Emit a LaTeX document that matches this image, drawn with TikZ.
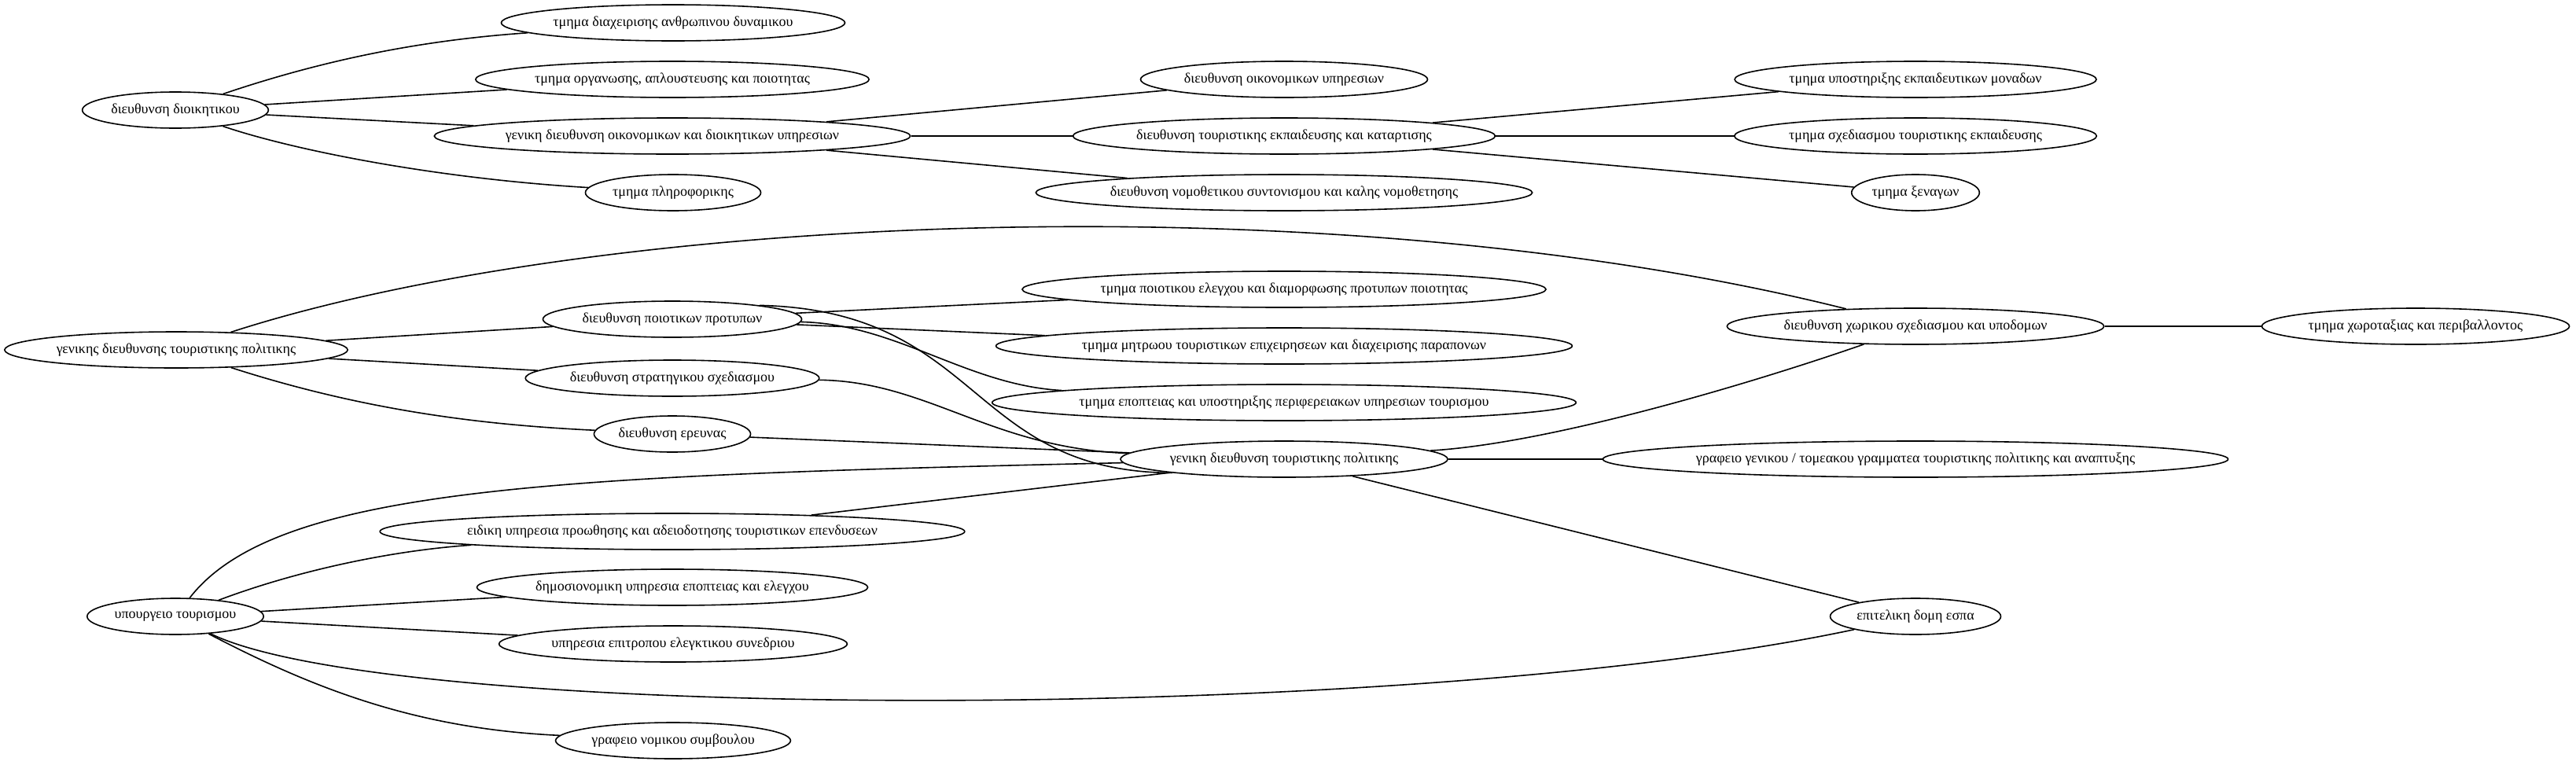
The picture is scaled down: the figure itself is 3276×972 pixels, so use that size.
\documentclass[tikz,border=0pt]{standalone}
\usepackage{fontspec}
\setmainfont{Liberation Serif}
\usetikzlibrary{shapes.geometric,positioning}

\begin{document}
\begin{tikzpicture}[x=1pt, y=1pt, on grid, line width=1.6pt,
	unit/.style={ellipse, draw, minimum height=46pt, inner xsep=2pt, inner ysep=0pt, font=\fontsize{18}{20}\selectfont}]
	\useasboundingbox (0,0) rectangle (3276,-972);

	\node[unit] (dioik) at (223,-140) {διευθυνση διοικητικου};
	\node[unit] (anthr) [above right=111pt and 633pt of dioik] {τμημα διαχειρισης ανθρωπινου δυναμικου};
	\node[unit] (organ) [above right=39pt and 632pt of dioik] {τμημα οργανωσης, απλουστευσης και ποιοτητας};
	\node[unit] (gdoik) [below right=33pt and 632pt of dioik] {γενικη διευθυνση οικονομικων και διοικητικων υπηρεσιων};
	\node[unit] (plir) [below right=105pt and 633pt of dioik] {τμημα πληροφορικης};
	\node[unit] (oikon) [above right=72pt and 778pt of gdoik] {διευθυνση οικονομικων υπηρεσιων};
	\node[unit] (ekpaid) [right=778pt of gdoik] {διευθυνση τουριστικης εκπαιδευσης και καταρτισης};
	\node[unit] (nomoth) [below right=72pt and 778pt of gdoik] {διευθυνση νομοθετικου συντονισμου και καλης νομοθετησης};
	\node[unit] (monad) [above right=72pt and 803pt of ekpaid] {τμημα υποστηριξης εκπαιδευτικων μοναδων};
	\node[unit] (sxekp) [right=803pt of ekpaid] {τμημα σχεδιασμου τουριστικης εκπαιδευσης};
	\node[unit] (xenag) [below right=72pt and 803pt of ekpaid] {τμημα ξεναγων};

	\node[unit] (gdtp2) at (224,-445) {γενικης διευθυνσης τουριστικης πολιτικης};
	\node[unit] (protyp) [above right=39pt and 631pt of gdtp2] {διευθυνση ποιοτικων προτυπων};
	\node[unit] (strat) [below right=36pt and 631pt of gdtp2] {διευθυνση στρατηγικου σχεδιασμου};
	\node[unit] (ereun) [below right=107pt and 631pt of gdtp2] {διευθυνση ερευνας};
	\node[unit] (gdtp) at (1633,-584) {γενικη διευθυνση τουριστικης πολιτικης};
	\node[unit] (poiel) [above=216pt of gdtp] {τμημα ποιοτικου ελεγχου και διαμορφωσης προτυπων ποιοτητας};
	\node[unit] (mitr) [above=144pt of gdtp] {τμημα μητρωου τουριστικων επιχειρησεων και διαχειρισης παραπονων};
	\node[unit] (epopt) [above=72pt of gdtp] {τμημα εποπτειας και υποστηριξης περιφερειακων υπηρεσιων τουρισμου};
	\node[unit] (grgen) [right=803pt of gdtp] {γραφειο γενικου / τομεακου γραμματεα τουριστικης πολιτικης και αναπτυξης};
	\node[unit] (xorik) [above=169pt of grgen] {διευθυνση χωρικου σχεδιασμου και υποδομων};
	\node[unit] (xorot) [right=636pt of xorik] {τμημα χωροταξιας και περιβαλλοντος};

	\node[unit] (ypourg) at (223,-784) {υπουργειο τουρισμου};
	\node[unit] (eidik) [above right=108pt and 632pt of ypourg] {ειδικη υπηρεσια προωθησης και αδειοδοτησης τουριστικων επενδυσεων};
	\node[unit] (dimos) [above right=37pt and 632pt of ypourg] {δημοσιονομικη υπηρεσια εποπτειας και ελεγχου};
	\node[unit] (elegk) [below right=35pt and 633pt of ypourg] {υπηρεσια επιτροπου ελεγκτικου συνεδριου};
	\node[unit] (nomik) [below right=158pt and 633pt of ypourg] {γραφειο νομικου συμβουλου};
	\node[unit] (espa) [right=2213pt of ypourg] {επιτελικη δομη εσπα};

	\path	(dioik) edge (organ) edge (gdoik)
			(gdoik) edge (oikon) edge (ekpaid) edge (nomoth)
			(ekpaid) edge (monad) edge (sxekp) edge (xenag)
			(gdtp2) edge (protyp) edge (strat)
			(protyp) edge (poiel) edge (mitr)
			(ereun) edge (gdtp)
			(eidik) edge (gdtp)
			(gdtp) edge (grgen) edge (espa)
			(xorik) edge (xorot)
			(ypourg) edge (dimos) edge (elegk);

	% curved connectors
	\draw (dioik) .. controls (427,-71) and (552,-50) .. (anthr);
	\draw (dioik) .. controls (373,-191) and (554,-227) .. (plir);
	\draw (gdtp2) .. controls (758,-272) and (1694,-229) .. (xorik);
	\draw (gdtp2) .. controls (472,-525) and (626,-541) .. (ereun);
	\draw (protyp) .. controls (1140,-412) and (1230,-490) .. (epopt);
	\draw (protyp.9) .. controls (1250,-395) and (1230,-600) .. (gdtp.187);
	\draw (strat) .. controls (1180,-485) and (1260,-570) .. (gdtp);
	\draw (gdtp) .. controls (1975,-564) and (2238,-484) .. (xorik);
	\draw (ypourg) .. controls (350,-620) and (700,-605) .. (gdtp);
	\draw (ypourg) .. controls (380,-725) and (500,-700) .. (eidik);
	\draw (ypourg) .. controls (500,-920) and (1800,-920) .. (espa);
	\draw (ypourg) .. controls (399,-876) and (530,-927) .. (nomik);
\end{tikzpicture}
\end{document}
